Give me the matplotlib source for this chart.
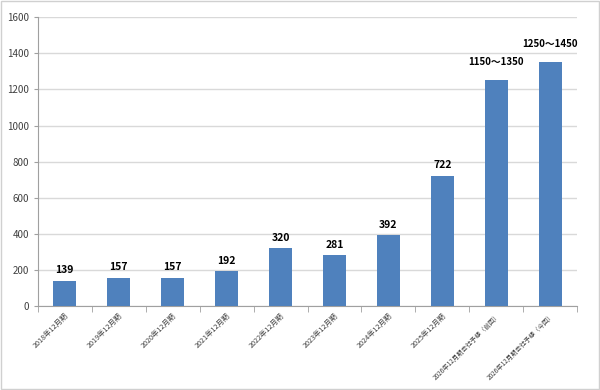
import numpy as np
import matplotlib.pyplot as plt
from matplotlib.patches import Rectangle

plt.rcParams['font.family'] = ['Noto Sans CJK JP', 'DejaVu Sans']

# data
periods = ['2018年12月期', '2019年12月期', '2020年12月期', '2021年12月期',
           '2022年12月期', '2023年12月期', '2024年12月期', '2025年12月期',
           '2026年12月期会社予想（前回）', '2026年12月期会社予想（今回）']
values = [139, 157, 157, 192, 320, 281, 392, 722, 1250, 1350]
labels = ['139', '157', '157', '192', '320', '281', '392', '722',
          '1150～1350', '1250～1450']
label_tops = [None] * 8 + [1350, 1450]  # range forecasts: label at upper bound

fig = plt.figure(figsize=(6, 3.9), dpi=100)
ax = fig.add_axes([0.063, 0.215, 0.899, 0.741])
fig.patches.append(Rectangle((0.002, 0.003), 0.996, 0.994, transform=fig.transFigure,
                             fill=False, edgecolor='#d0d0d0', linewidth=1))

x = np.arange(len(periods))
ax.bar(x, values, width=0.42, color='#4f81bd', zorder=3)

for xi, v, lab, top in zip(x, values, labels, label_tops):
    if top is None:
        ax.annotate(lab, (xi, v), xytext=(0, 4), textcoords='offset points',
                    ha='center', va='bottom', fontsize=7.5, fontweight='bold')
    else:
        ax.text(xi, top, lab, ha='center', va='center', fontsize=7, fontweight='bold')

ax.set_xlim(-0.5, len(periods) - 0.5)
ax.set_ylim(0, 1600)
ax.set_yticks(range(0, 1601, 200))
ax.yaxis.grid(True, color='#d9d9d9', linewidth=1, zorder=0)
ax.tick_params(axis='y', labelsize=7, length=3, color='#a0a0a0', labelcolor='#404040')

ax.set_xticks(x)
ax.set_xticklabels(periods, rotation=45, ha='right', rotation_mode='anchor',
                   fontsize=5.2, color='#404040')
for t in ax.get_xticklabels()[8:]:
    t.set_fontsize(4.6)
ax.set_xticks(np.arange(-0.5, len(periods)), minor=True)
ax.tick_params(axis='x', which='major', length=0, pad=4)
ax.tick_params(axis='x', which='minor', length=4, color='#a0a0a0')

for side in ['top', 'right']:
    ax.spines[side].set_visible(False)
for side in ['left', 'bottom']:
    ax.spines[side].set_color('#a0a0a0')

plt.savefig('out.png')
